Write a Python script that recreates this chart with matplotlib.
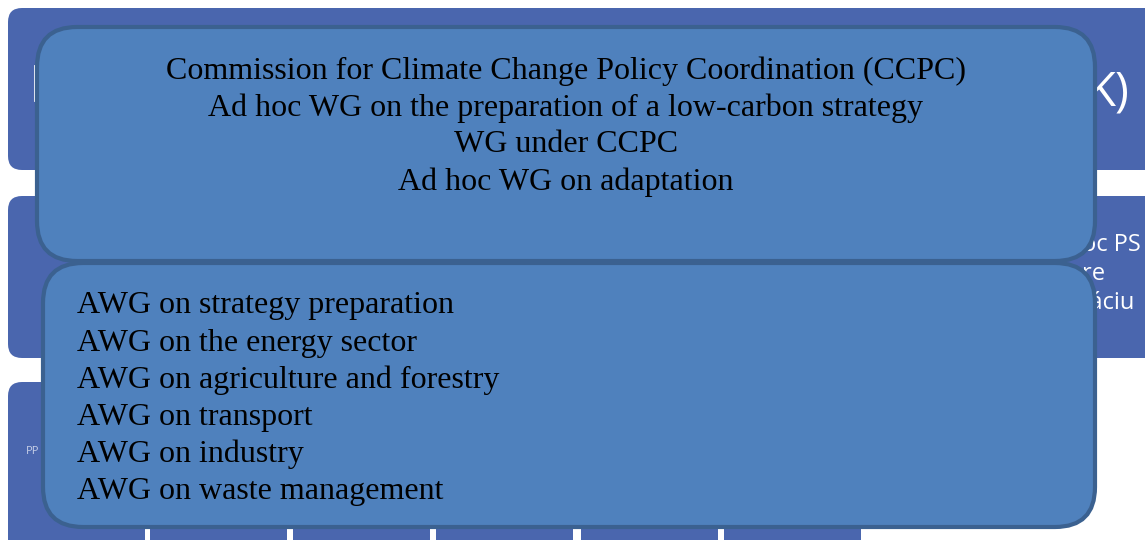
import matplotlib.pyplot as plt
from matplotlib.patches import FancyBboxPatch

# texts of the diagram
top_lines = ["Commission for Climate Change Policy Coordination (CCPC)",
             "Ad hoc WG on the preparation of a low-carbon strategy",
             "WG under CCPC",
             "Ad hoc WG on adaptation"]
awg_lines = ["AWG on strategy preparation",
             "AWG on the energy sector",
             "AWG on agriculture and forestry",
             "AWG on transport",
             "AWG on industry",
             "AWG on waste management"]
back_mid_lines = ["oc PS", "re", "táciu"]

back_col = "#4a66ae"
front_col = "#4f81bd"
edge_col = "#3b6190"


def rbox(ax, x0, y0, x1, y1, r, fc, ec="none", lw=0, z=1):
    p = FancyBboxPatch((x0, y0), x1 - x0, y1 - y0,
                       boxstyle="round,pad=0,rounding_size=%d" % r,
                       fc=fc, ec=ec, lw=lw, zorder=z)
    ax.add_patch(p)


if __name__ == '__main__':

	fig = plt.figure(figsize=(11.45, 5.4), dpi=100)
	ax = fig.add_axes([0, 0, 1, 1])
	ax.set_xlim(0, 1145)
	ax.set_ylim(540, 0)
	ax.axis("off")

	## background boxes
	rbox(ax, 8, 8, 1170, 170, 14, back_col)
	rbox(ax, 8, 196, 1170, 358, 14, back_col)
	rbox(ax, 8, 382, 145, 560, 14, back_col)
	for x0 in [150, 293, 436, 581, 724]:
		rbox(ax, x0, 505, x0 + 137, 560, 14, back_col)

	ax.text(1086, 93, "K)", color="white", fontsize=34, family="Open Sans",
	        va="center", ha="left", zorder=2)
	for i, s in enumerate(back_mid_lines):
		ax.text(1082, 245 + i * 29, s, color="white", fontsize=17,
		        family="Open Sans", va="center", ha="left", zorder=2)
	ax.text(26, 452, "PP", color="#c8d0e8", fontsize=8, family="Open Sans",
	        va="center", ha="left", zorder=2)
	ax.plot([35, 35], [66, 100], color="white", lw=2, zorder=2)

	## front boxes
	rbox(ax, 37, 27, 1095, 261, 40, front_col, edge_col, 3, 5)
	rbox(ax, 43, 263, 1095, 527, 40, front_col, edge_col, 3, 5)

	for i, s in enumerate(top_lines):
		ax.text(566, 71 + i * 37, s, fontsize=23, family="Liberation Serif",
		        ha="center", va="center", color="black", zorder=6)
	for i, s in enumerate(awg_lines):
		ax.text(77, 306 + i * 37, s, fontsize=23, family="Liberation Serif",
		        ha="left", va="center", color="black", zorder=6)

	plt.savefig("out.png", dpi=100)
